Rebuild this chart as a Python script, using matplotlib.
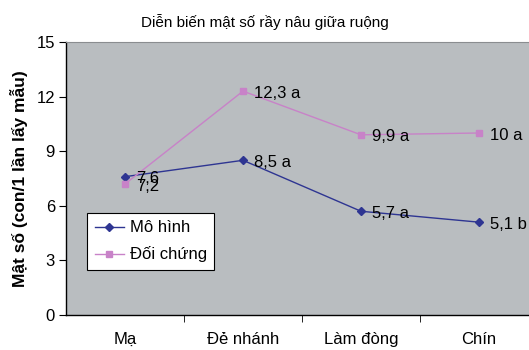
import matplotlib
matplotlib.use("Agg")
import matplotlib.pyplot as plt

plt.rcParams['font.family'] = ['Liberation Sans', 'DejaVu Sans']

stages = ["Mạ", "Đẻ nhánh", "Làm đòng", "Chín"]
mo_hinh = [7.6, 8.5, 5.7, 5.1]
doi_chung = [7.2, 12.3, 9.9, 10.0]
mo_hinh_labels = ["7,6", "8,5 a", "5,7 a", "5,1 b"]
doi_chung_labels = ["7,2", "12,3 a", "9,9 a", "10 a"]
yticks = [0, 3, 6, 9, 12, 15]

fig = plt.figure(figsize=(5.29, 3.5), dpi=100)
ax = fig.add_axes([66 / 529, 1 - 315 / 350, (538 - 66) / 529, (315 - 42) / 350])
ax.set_facecolor("#B9BDC0")

x = list(range(len(stages)))
ax.plot(x, mo_hinh, color="#2E3592", marker="D", markersize=4, lw=1, label="Mô hình")
ax.plot(x, doi_chung, color="#C882C8", marker="s", markersize=4.5, lw=1, label="Đối chứng")

for xi, v, t in zip(x, mo_hinh, mo_hinh_labels):
    ax.annotate(t, (xi, v), xytext=(8, -1.5), textcoords="offset points",
                va="center", ha="left", fontsize=12, color="black")
for xi, v, t in zip(x, doi_chung, doi_chung_labels):
    ax.annotate(t, (xi, v), xytext=(8, -1.5), textcoords="offset points",
                va="center", ha="left", fontsize=12, color="black")

ax.set_xlim(-0.5, 3.5)
ax.set_ylim(0, 15)
ax.set_yticks(yticks)
ax.set_yticklabels([str(v) for v in yticks], fontsize=12)
ax.set_xticks(x)
ax.set_xticklabels(stages, fontsize=12)
ax.set_xticks([0.5, 1.5, 2.5], minor=True)
ax.tick_params(axis="x", which="major", length=0, pad=12)
ax.tick_params(axis="x", which="minor", length=5, direction="out", color="black")
ax.tick_params(axis="y", length=5, direction="out", color="black", pad=3)

for side in ["top", "right"]:
    ax.spines[side].set_color("#8A8D90")
    ax.spines[side].set_linewidth(0.8)
for side in ["left", "bottom"]:
    ax.spines[side].set_color("black")
    ax.spines[side].set_linewidth(1)

ax.set_ylabel("Mật số (con/1 lần lấy mẫu)", fontsize=12.5, fontweight="bold", labelpad=6)
fig.text(0.5, 1 - 22 / 350, "Diễn biến mật số rầy nâu giữa ruộng", fontsize=11,
         ha="center", va="center")

leg = ax.legend(loc="upper left", bbox_to_anchor=((87 - 66) / 472, (315 - 213) / 273),
                frameon=True, fancybox=False, fontsize=12, handlelength=1.75,
                borderpad=0.45, labelspacing=0.65, handletextpad=0.35,
                borderaxespad=0)
leg.get_frame().set_edgecolor("black")
leg.get_frame().set_linewidth(0.8)
leg.get_frame().set_facecolor("white")
leg.get_frame().set_alpha(1)

fig.savefig("out.png", dpi=100)
